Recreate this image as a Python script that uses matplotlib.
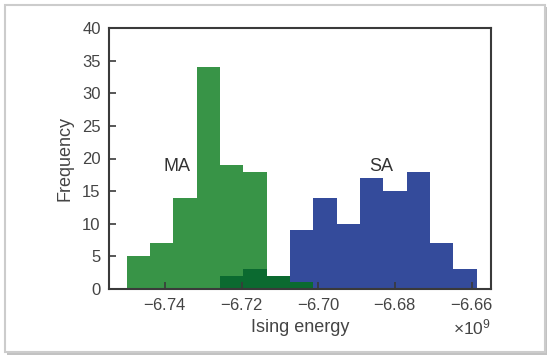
import numpy as np
import matplotlib
matplotlib.use('Agg')
import matplotlib.pyplot as plt
from matplotlib.patches import Rectangle
from matplotlib.ticker import ScalarFormatter

plt.rcParams['font.family'] = ['Liberation Sans', 'DejaVu Sans']
plt.rcParams['mathtext.fontset'] = 'custom'
plt.rcParams['mathtext.rm'] = 'Liberation Sans'

# data: common bin grid (Ising energy), counts per bin
bin_edges = np.linspace(-6.7500e9, -6.6587e9, 16)
ma_counts = [5, 7, 14, 34, 19, 18]            # bins 0..5
ma_tail_counts = [2, 3, 2, 1]                 # bins 4..7 (dark green)
sa_counts = [9, 14, 10, 17, 15, 18, 7, 3]     # bins 7..14

width = bin_edges[1] - bin_edges[0]

fig = plt.figure(figsize=(5.53, 3.62), dpi=100)

# frame with a soft shadow
shadow = Rectangle((7 / 553, 1 - 355 / 362), 540 / 553, 348 / 362, transform=fig.transFigure,
                   facecolor='#9a9a9a', edgecolor='none', alpha=0.6, zorder=-3)
frame = Rectangle((5 / 553, 1 - 352 / 362), 540 / 553, 347 / 362, transform=fig.transFigure,
                  facecolor='white', edgecolor='#cccccc', linewidth=1.5, zorder=-2)
fig.patches.extend([shadow, frame])

ax = fig.add_axes([109 / 553, 1 - 289 / 362, 382 / 553, 261 / 362])

ax.bar(bin_edges[0:6], ma_counts, width=width, align='edge', color='#389447', linewidth=0)
ax.bar(bin_edges[7:15], sa_counts, width=width, align='edge', color='#344b9b', linewidth=0)
ax.bar(bin_edges[4:8], ma_tail_counts, width=width, align='edge', color='#0b6a30', linewidth=0)

ax.text(-6.7369e9, 18.7, 'MA', fontsize=13, color='#333333', ha='center', va='center')
ax.text(-6.6837e9, 18.7, 'SA', fontsize=13, color='#333333', ha='center', va='center')

ax.set_xlim(-6.7546e9, -6.6550e9)
ax.set_ylim(0, 40)
ax.set_xticks([-6.74e9, -6.72e9, -6.70e9, -6.68e9, -6.66e9])
ax.set_yticks(range(0, 41, 5))

fmt = ScalarFormatter(useMathText=True)
fmt.set_useOffset(False)
fmt.set_powerlimits((0, 0))
ax.xaxis.set_major_formatter(fmt)
ax.xaxis.get_offset_text().set_fontsize(12.5)
ax.xaxis.get_offset_text().set_color('#555555')

for s in ax.spines.values():
    s.set_color('#3a3a3a')
    s.set_linewidth(1.5)

ax.tick_params(direction='in', length=5, width=1.2, colors='#3a3a3a', labelsize=12,
               labelcolor='#444444', top=False, right=False, pad=6)

ax.set_xlabel('Ising energy', fontsize=13, color='#444444', labelpad=4)
ax.set_ylabel('Frequency', fontsize=13, color='#444444', labelpad=6)

fig.savefig('out.png', dpi=100)
